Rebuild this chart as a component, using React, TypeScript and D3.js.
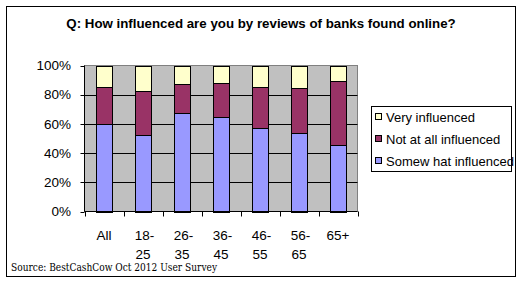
import React from "react";
import * as d3 from "d3";

const categories: string[][] = [["All"], ["18-", "25"], ["26-", "35"], ["36-", "45"], ["46-", "55"], ["56-", "65"], ["65+"]];
const somewhat = [59.6, 52.7, 67.8, 64.4, 57.5, 54.1, 45.6];
const notAtAll = [26.0, 29.5, 19.4, 23.3, 28.1, 30.8, 44.1];
const very = [14.4, 17.8, 12.8, 12.3, 14.4, 15.1, 10.3];
const yTicks = [0, 20, 40, 60, 80, 100];
const seriesNames = ["Somew hat influenced", "Not at all influenced", "Very influenced"];
const seriesColors = ["#9999FF", "#993366", "#FFFFCC"];
const title = "Q: How influenced are you by reviews of banks found online?";
const source = "Source: BestCashCow Oct 2012 User Survey";

export default function App() {
  const W = 522, H = 282;
  const left = 84.5, right = 357.5, top = 65.5, bottom = 211.5;
  const keys = categories.map((c) => c.join(""));
  const x = d3.scaleBand<string>().domain(keys).range([left, right]).paddingInner(0.59).paddingOuter(0.295);
  const y = d3.scaleLinear().domain([0, 100]).range([bottom, top]);
  const rows = keys.map((k, i) => ({ key: k, s0: somewhat[i], s1: notAtAll[i], s2: very[i] }));
  const stack = d3.stack<any>().keys(["s0", "s1", "s2"]);
  const layers = stack(rows);
  const step = (right - left) / keys.length;
  const font = "'Liberation Sans', Arial, sans-serif";
  const legendRows = [2, 1, 0];

  return (
    <svg width={W} height={H} style={{ position: "absolute", left: 0, top: 0 }} fontFamily={font}>
      <rect x={0} y={0} width={W} height={H} fill="#fff" />
      <rect x={6.5} y={6.5} width={509} height={270} fill="#fff" stroke="#000" strokeWidth={1} />
      <text x={261} y={28} textAnchor="middle" fontSize={13.3} fontWeight="bold" fill="#000">{title}</text>
      <rect x={left} y={top} width={right - left} height={bottom - top} fill="#C0C0C0" stroke="#808080" strokeWidth={1} />
      {yTicks.map((t) => (
        <g key={t}>
          {t > 0 && t < 100 && <line x1={left} x2={right} y1={Math.round(y(t)) + 0.5} y2={Math.round(y(t)) + 0.5} stroke="#000" strokeWidth={1} />}
          <line x1={left - 4} x2={left} y1={Math.round(y(t)) + 0.5} y2={Math.round(y(t)) + 0.5} stroke="#000" />
          <text x={71} y={y(t) + 4.7} textAnchor="end" fontSize={13.5} fill="#000">{t}%</text>
        </g>
      ))}
      {layers.map((layer, li) =>
        layer.map((d, i) => (
          <rect key={li + "-" + i}
            x={Math.round(x(keys[i])!) + 0.5}
            y={Math.round(y(d[1])) + 0.5}
            width={Math.round(x.bandwidth())}
            height={Math.round(y(d[0])) - Math.round(y(d[1]))}
            fill={seriesColors[li]} stroke="#000" strokeWidth={1} />
        ))
      )}
      <line x1={left} x2={left} y1={top} y2={bottom} stroke="#000" />
      <line x1={left} x2={right} y1={bottom} y2={bottom} stroke="#000" />
      {d3.range(keys.length + 1).map((i) => (
        <line key={i} x1={Math.round(left + i * step) + 0.5} x2={Math.round(left + i * step) + 0.5} y1={bottom} y2={bottom + 5} stroke="#000" />
      ))}
      {categories.map((c, i) => (
        <g key={i}>
          {c.map((line, j) => (
            <text key={j} x={x(keys[i])! + x.bandwidth() / 2 + (line.endsWith("-") ? 1.5 : 0)} y={240 + j * 19} textAnchor="middle" fontSize={13.5} fill="#000">{line}</text>
          ))}
        </g>
      ))}
      <rect x={371.5} y={106.5} width={140} height={65} fill="#fff" stroke="#000" strokeWidth={1} />
      {legendRows.map((si, r) => (
        <g key={si}>
          <rect x={375.5} y={114 + r * 22 - 0.5} width={6} height={6} fill={seriesColors[si]} stroke="#000" />
          <text x={386} y={122 + r * 22} fontSize={13} fill="#000">{seriesNames[si]}</text>
        </g>
      ))}
      <text x={11} y={271} fontSize={11} fontFamily="'DejaVu Serif', 'Liberation Serif', serif" textLength={206} lengthAdjust="spacingAndGlyphs" fill="#000">{source}</text>
    </svg>
  );
}
